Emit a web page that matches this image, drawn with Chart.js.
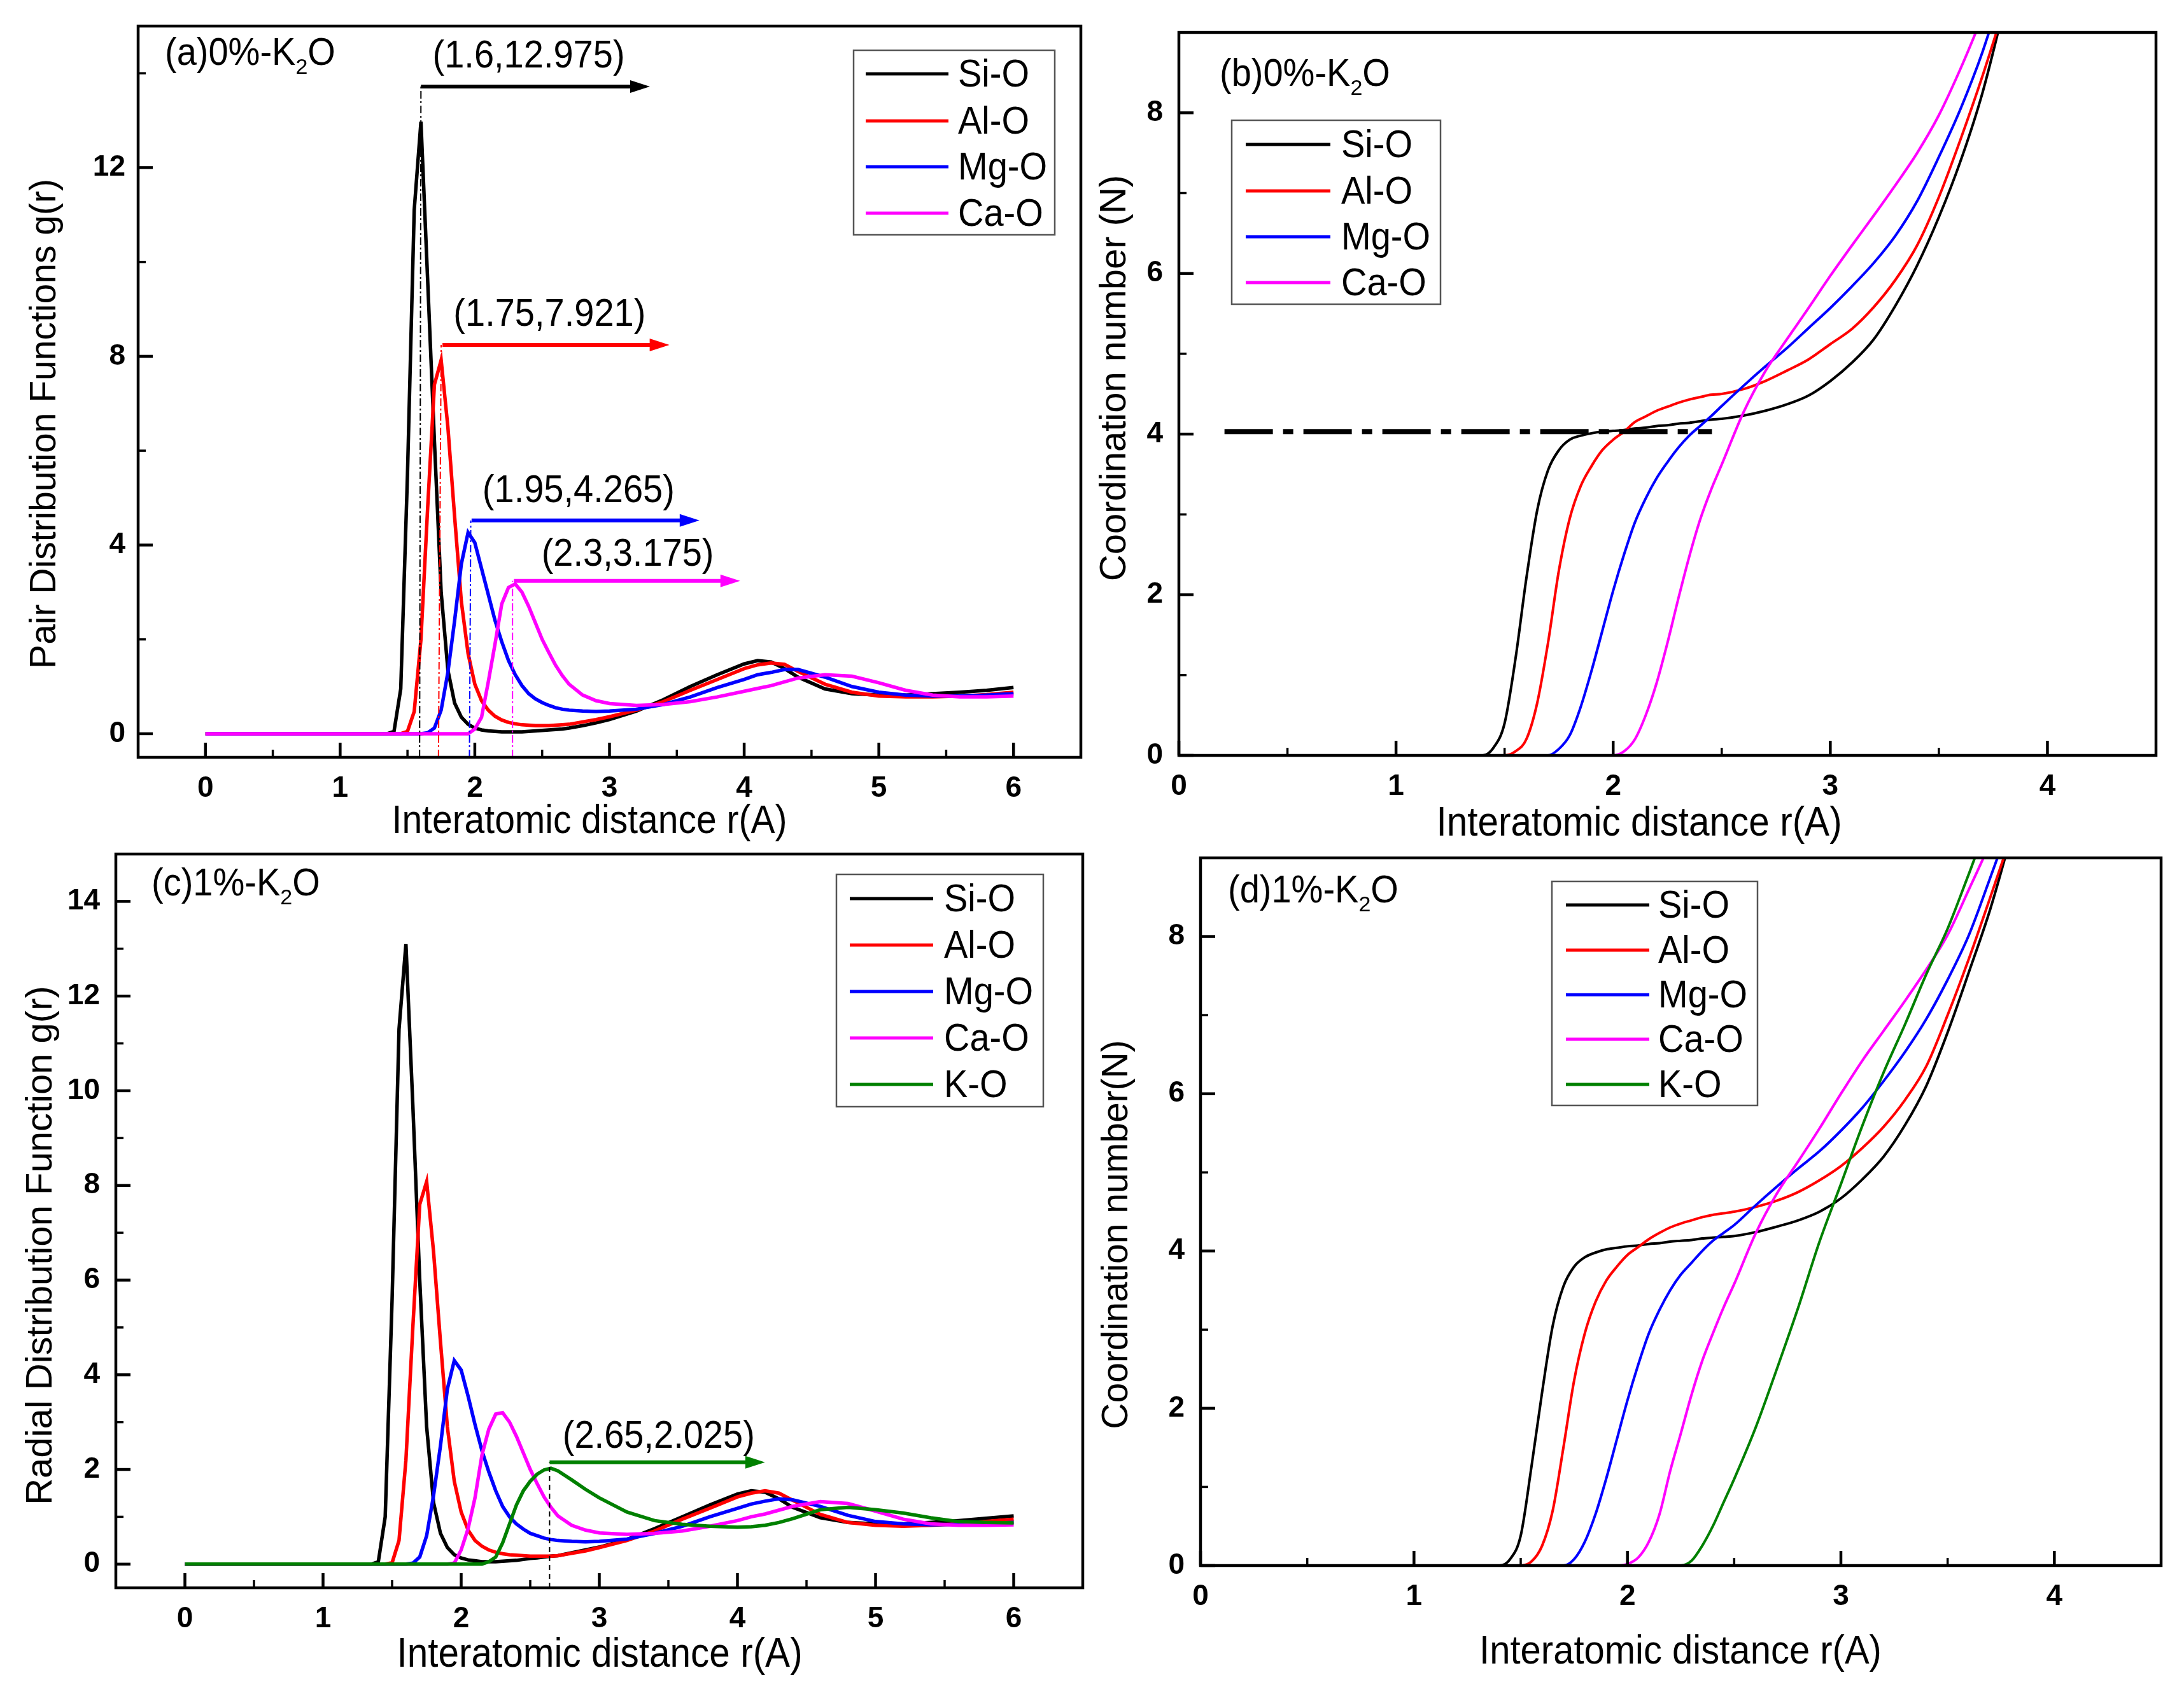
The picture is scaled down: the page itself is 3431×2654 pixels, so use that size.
<!DOCTYPE html>
<html>
  <head>
    <script src="https://cdn.jsdelivr.net/npm/chart.js@4/dist/chart.umd.min.js"></script>
    <style>
      body { margin: 0; background: #fff; }
      canvas { position: absolute; }
    </style>
  </head>
  <body>
    <canvas id="panelA" width="1716" height="1327" style="left:0;top:0"></canvas>
    <canvas id="panelB" width="1715" height="1327" style="left:1716px;top:0"></canvas>
    <canvas id="panelC" width="1716" height="1327" style="left:0;top:1327px"></canvas>
    <canvas id="panelD" width="1715" height="1327" style="left:1716px;top:1327px"></canvas>
    <script>
      // r grid shared by the pair distribution panels (a, c)
      var rPdf = [0,1.3,1.35,1.4,1.45,1.5,1.55,1.6,1.65,1.7,
        1.75,1.8,1.85,1.9,1.95,2,2.05,2.1,2.15,2.2,
        2.25,2.3,2.35,2.4,2.45,2.5,2.55,2.6,2.65,2.7,
        2.8,2.9,3,3.2,3.4,3.6,3.8,4,4.1,4.2,
        4.3,4.4,4.6,4.8,5,5.2,5.4,5.6,5.8,6];

      var siOA = [0,0,0,.05,.95,5.5,11.1,12.975,9.6,6.2,
        3,1.35,.65,.35,.2,.12,.08,.06,.05,.04,
        .04,.04,.04,.05,.06,.07,.08,.09,.1,.12,
        .17,.23,.3,.48,.72,1,1.25,1.48,1.55,1.52,
        1.38,1.2,.95,.85,.82,.82,.85,.88,.92,.98];
      var alOA = [0,0,0,0,0,.05,.47,2,4.8,7.4,
        7.921,6.5,4.6,2.8,1.7,1.05,.7,.5,.37,.29,
        .24,.21,.19,.18,.17,.17,.17,.18,.19,.2,
        .25,.3,.36,.5,.68,.92,1.15,1.38,1.46,1.5,
        1.47,1.32,1.05,.88,.8,.78,.78,.8,.83,.88];
      var mgOA = [0,0,0,0,0,0,0,0,.02,.12,
        .5,1.3,2.4,3.6,4.265,4.05,3.5,2.95,2.4,1.95,
        1.55,1.25,1.02,.85,.74,.66,.6,.55,.52,.5,
        .48,.47,.48,.52,.62,.78,.98,1.15,1.25,1.3,
        1.36,1.36,1.2,1,.88,.82,.8,.8,.82,.85];
      var caOA = [0,0,0,0,0,0,0,0,0,0,
        0,0,0,0,0,.1,.35,1.1,1.9,2.75,
        3.1,3.175,3,2.7,2.35,2,1.72,1.45,1.23,1.05,
        .82,.7,.64,.6,.62,.68,.78,.9,.96,1.02,
        1.1,1.18,1.25,1.22,1.08,.92,.82,.78,.78,.8];

      var siOC = [0,0,0,.05,1,5.6,11.3,13.1,9.7,6,
        2.9,1.3,.65,.35,.2,.13,.09,.07,.05,.05,
        .05,.06,.07,.08,.1,.12,.13,.15,.17,.18,
        .24,.3,.36,.52,.75,1,1.25,1.48,1.55,1.52,
        1.38,1.2,.98,.88,.85,.85,.88,.92,.97,1.02];
      var alOC = [0,0,0,0,0,.03,.5,2.2,5,7.6,
        8.08,6.6,4.7,2.9,1.75,1.1,.72,.5,.38,.3,
        .25,.22,.2,.19,.18,.17,.17,.17,.17,.18,
        .23,.28,.35,.5,.7,.95,1.18,1.42,1.5,1.55,
        1.5,1.35,1.05,.88,.82,.8,.82,.85,.9,.95];
      var mgOC = [0,0,0,0,0,0,0,0,.02,.15,
        .6,1.45,2.5,3.7,4.3,4.1,3.55,2.95,2.4,1.95,
        1.55,1.22,1,.85,.74,.65,.6,.55,.52,.5,
        .48,.47,.48,.53,.65,.8,1,1.18,1.27,1.33,
        1.38,1.36,1.22,1.03,.9,.85,.83,.84,.86,.88];
      var caOC = [0,0,0,0,0,0,0,0,0,0,
        0,0,0,0,.02,.3,.75,1.4,2.3,2.85,
        3.17,3.2,3,2.7,2.35,2,1.7,1.42,1.2,1.02,
        .82,.72,.66,.63,.65,.7,.8,.92,1,1.06,
        1.14,1.22,1.32,1.28,1.12,.95,.85,.82,.82,.83];
      var kOC = [0,0,0,0,0,0,0,0,0,0,
        0,0,0,0,0,0,0,0,0,.05,
        .15,.45,.85,1.25,1.55,1.75,1.9,1.99,2.025,1.97,
        1.78,1.58,1.4,1.1,.92,.84,.8,.78,.79,.82,
        .88,.96,1.15,1.2,1.15,1.08,.98,.9,.88,.87];

      // r grid shared by the coordination number panels (b, d)
      var rCn = [0,1.4,1.45,1.5,1.55,1.6,1.65,1.7,1.75,1.8,
        1.85,1.9,1.95,2,2.05,2.1,2.15,2.2,2.25,2.3,
        2.35,2.4,2.45,2.5,2.6,2.7,2.8,2.9,3,3.1,
        3.2,3.3,3.4,3.5,3.6,3.7,3.8];

      var siOB = [0,0,.1,.4,1.2,2.2,3.05,3.55,3.8,3.93,
        3.98,4.01,4.03,4.04,4.05,4.07,4.08,4.1,4.11,4.13,
        4.14,4.16,4.18,4.19,4.23,4.29,4.37,4.48,4.66,4.89,
        5.18,5.6,6.1,6.7,7.4,8.24,9.3];
      var alOB = [0,0,0,0,.05,.2,.65,1.4,2.3,2.95,
        3.35,3.6,3.8,3.93,4.03,4.15,4.22,4.29,4.34,4.39,
        4.43,4.46,4.49,4.5,4.56,4.66,4.79,4.93,5.12,5.31,
        5.58,5.92,6.35,6.95,7.67,8.45,9.3];
      var mgOB = [0,0,0,0,0,0,0,0,.08,.25,
        .6,1.05,1.55,2.05,2.5,2.9,3.2,3.45,3.65,3.83,
        3.98,4.1,4.22,4.35,4.6,4.84,5.07,5.32,5.57,5.84,
        6.13,6.47,6.9,7.45,8.05,8.75,9.6];
      var caOB = [0,0,0,0,0,0,0,0,0,0,
        0,0,0,0,.05,.2,.5,.9,1.4,1.95,
        2.47,2.93,3.3,3.62,4.27,4.78,5.18,5.57,5.97,6.35,
        6.72,7.1,7.5,7.97,8.55,9.2,9.9];

      var siOD = [0,0,.08,.38,1.25,2.2,3.05,3.55,3.8,3.92,
        3.98,4.02,4.04,4.06,4.07,4.09,4.1,4.12,4.13,4.14,
        4.16,4.17,4.18,4.19,4.24,4.31,4.39,4.5,4.67,4.91,
        5.2,5.6,6.1,6.78,7.55,8.35,9.3];
      var alOD = [0,0,0,0,.05,.25,.7,1.5,2.35,2.95,
        3.35,3.62,3.8,3.95,4.05,4.15,4.23,4.3,4.35,4.39,
        4.43,4.46,4.48,4.5,4.56,4.64,4.75,4.9,5.08,5.31,
        5.58,5.92,6.35,7,7.72,8.5,9.3];
      var mgOD = [0,0,0,0,0,0,0,0,.08,.3,
        .65,1.1,1.6,2.1,2.55,2.95,3.25,3.5,3.7,3.85,
        4,4.13,4.23,4.33,4.58,4.82,5.05,5.27,5.53,5.82,
        6.16,6.53,6.95,7.45,8.02,8.75,9.5];
      var caOD = [0,0,0,0,0,0,0,0,0,0,
        0,0,0,.02,.1,.3,.65,1.2,1.68,2.17,
        2.6,2.95,3.28,3.58,4.22,4.73,5.14,5.56,6,6.42,
        6.8,7.18,7.58,8.02,8.6,9.2,9.9];
      var kOD = [0,0,0,0,0,0,0,0,0,0,
        0,0,0,0,0,0,0,0,0,.06,
        .25,.5,.8,1.1,1.75,2.5,3.28,4.12,4.85,5.59,
        6.27,6.88,7.52,8.1,8.8,9.5,9.9];

      var seriesNames = ['Si-O', 'Al-O', 'Mg-O', 'Ca-O', 'K-O'];
      var seriesColors = ['#000000', '#ff0000', '#0000ff', '#ff00ff', '#008000'];

      var FONT = '"Liberation Sans", Arial, sans-serif';

      var panels = [
        { id: 'panelA', left: 217, top: 41, right: 1698, bottom: 1190, cw: 1716, lw: 5.5, tickPad: 20,
          xMin: -0.5, xMax: 6.5, yMin: -0.5, yMax: 15,
          xTicks: [0,1,2,3,4,5,6], xMinor: [.5,1.5,2.5,3.5,4.5,5.5],
          yTicks: [0,4,8,12], yMinor: [2,6,10,14],
          r: rPdf, series: [siOA, alOA, mgOA, caOA],
          yTitle: 'Pair Distribution Functions g(r)', yTitleSize: 57, yTitleX: 71, yTitleY: 666,
          xTitleSize: 57, xTitleX: 926, xTitleY: 1292,
          label: '(a)0%-K', labelX: 259, labelY: 85,
          legend: { x0: 1341, x1: 1657, y0: 79, y1: 369, lx0: 1360, lx1: 1490, tx: 1505, rows: [116,190,262,335] },
          notes: [
            { text: '(1.6,12.975)', tx: 2.4, ty: 14.35, vx0: 1.59, vx1: 1.6, ay: 13.72, ax0: 1.6, ax1: 3.3, c: 0 },
            { text: '(1.75,7.921)', tx: 2.555, ty: 8.87, vx0: 1.73, vx1: 1.75, ay: 8.24, ax0: 1.76, ax1: 3.445, c: 1 },
            { text: '(1.95,4.265)', tx: 2.77, ty: 5.14, vx0: 1.96, vx1: 1.97, ay: 4.52, ax0: 1.976, ax1: 3.668, c: 2 },
            { text: '(2.3,3.175)', tx: 3.135, ty: 3.79, vx0: 2.28, vx1: 2.28, ay: 3.24, ax0: 2.29, ax1: 3.97, c: 3 }
          ] },
        { id: 'panelB', left: 136, top: 51, right: 1671, bottom: 1187, cw: 1715, lw: 4, tickPad: 25,
          xMin: 0, xMax: 4.5, yMin: 0, yMax: 9,
          xTicks: [0,1,2,3,4], xMinor: [.5,1.5,2.5,3.5],
          yTicks: [0,2,4,6,8], yMinor: [1,3,5,7],
          r: rCn, series: [siOB, alOB, mgOB, caOB],
          yTitle: 'Coordination number (N)', yTitleSize: 58, yTitleX: 36, yTitleY: 594,
          xTitleSize: 58.5, xTitleX: 859, xTitleY: 1295,
          label: '(b)0%-K', labelX: 200, labelY: 118,
          legend: { x0: 219, x1: 547, y0: 189, y1: 478, lx0: 241, lx1: 374, tx: 391, rows: [227,300,372,444] },
          dashLine: { x0: .21, x1: 2.455, y: 4.03 } },
        { id: 'panelC', left: 182, top: 15, right: 1701, bottom: 1168, cw: 1716, lw: 5.5, tickPad: 25,
          xMin: -0.5, xMax: 6.5, yMin: -0.5, yMax: 15,
          xTicks: [0,1,2,3,4,5,6], xMinor: [.5,1.5,2.5,3.5,4.5,5.5],
          yTicks: [0,2,4,6,8,10,12,14], yMinor: [1,3,5,7,9,11,13],
          r: rPdf, series: [siOC, alOC, mgOC, caOC, kOC],
          yTitle: 'Radial Distribution Function g(r)', yTitleSize: 58, yTitleX: 65, yTitleY: 630,
          xTitleSize: 58.5, xTitleX: 942, xTitleY: 1274,
          label: '(c)1%-K', labelX: 238, labelY: 63,
          legend: { x0: 1314, x1: 1639, y0: 47, y1: 412, lx0: 1335, lx1: 1466, tx: 1483, rows: [85,158,231,304,377] },
          notes: [
            { text: '(2.65,2.025)', tx: 3.43, ty: 2.69, vx0: 2.64, vx1: 2.64, ay: 2.15, ax0: 2.64, ax1: 4.2, c: 4, vc: 0, dash: [8, 6] }
          ] },
        { id: 'panelD', left: 170, top: 21, right: 1679, bottom: 1133, cw: 1715, lw: 4, tickPad: 25,
          xMin: 0, xMax: 4.5, yMin: 0, yMax: 9,
          xTicks: [0,1,2,3,4], xMinor: [.5,1.5,2.5,3.5],
          yTicks: [0,2,4,6,8], yMinor: [1,3,5,7],
          r: rCn, series: [siOD, alOD, mgOD, caOD, kOD],
          yTitle: 'Coordination number(N)', yTitleSize: 57, yTitleX: 39, yTitleY: 613,
          xTitleSize: 58, xTitleX: 924, xTitleY: 1269,
          label: '(d)1%-K', labelX: 213, labelY: 74,
          legend: { x0: 722, x1: 1045, y0: 58, y1: 410, lx0: 744, lx1: 875, tx: 889, rows: [95,166,236,306,377] } }
      ];

      // box, inward ticks, texts, legend and arrows on top of the curves
      var decorPlugin = {
        id: 'decor',
        afterDatasetsDraw: function(chart) {
          var p = chart.options.plugins.decor.panel;
          var ctx = chart.ctx, a = chart.chartArea;
          var sx = chart.scales.x, sy = chart.scales.y;
          ctx.save();

          ctx.strokeStyle = '#000';
          ctx.fillStyle = '#000';
          ctx.lineWidth = 4.5;
          p.xTicks.forEach(function(v) { var x = sx.getPixelForValue(v); line(ctx, x, a.bottom, x, a.bottom - 23); });
          p.yTicks.forEach(function(v) { var y = sy.getPixelForValue(v); line(ctx, a.left, y, a.left + 23, y); });
          ctx.lineWidth = 3.5;
          p.xMinor.forEach(function(v) { var x = sx.getPixelForValue(v); line(ctx, x, a.bottom, x, a.bottom - 12); });
          p.yMinor.forEach(function(v) { var y = sy.getPixelForValue(v); line(ctx, a.left, y, a.left + 12, y); });

          (p.notes || []).forEach(function(n) {
            var c = seriesColors[n.c];
            ctx.strokeStyle = seriesColors[n.vc === undefined ? n.c : n.vc];
            ctx.lineWidth = 2;
            ctx.setLineDash(n.dash || [12, 4, 3, 4]);
            line(ctx, sx.getPixelForValue(n.vx0), a.bottom, sx.getPixelForValue(n.vx1), sy.getPixelForValue(n.ay));
            ctx.setLineDash([]);
            var ay = sy.getPixelForValue(n.ay), x0 = sx.getPixelForValue(n.ax0), x1 = sx.getPixelForValue(n.ax1);
            ctx.strokeStyle = c;
            ctx.fillStyle = c;
            ctx.lineWidth = 6;
            line(ctx, x0, ay, x1 - 20, ay);
            ctx.beginPath();
            ctx.moveTo(x1, ay);
            ctx.lineTo(x1 - 31, ay - 10);
            ctx.lineTo(x1 - 31, ay + 10);
            ctx.closePath();
            ctx.fill();
            ctx.fillStyle = '#000';
            ctx.font = '56px ' + FONT;
            ctx.textAlign = 'center';
            ctx.textBaseline = 'middle';
            tallText(ctx, n.text, sx.getPixelForValue(n.tx), sy.getPixelForValue(n.ty));
          });

          if (p.dashLine) {
            ctx.strokeStyle = '#000';
            ctx.lineWidth = 8;
            ctx.setLineDash([76, 16, 16, 16]);
            var dy = sy.getPixelForValue(p.dashLine.y);
            line(ctx, sx.getPixelForValue(p.dashLine.x0), dy, sx.getPixelForValue(p.dashLine.x1), dy);
            ctx.setLineDash([]);
          }

          ctx.strokeStyle = '#000';
          ctx.lineWidth = 4.5;
          ctx.strokeRect(a.left, a.top, a.right - a.left, a.bottom - a.top);

          // panel label with the subscript in K2O
          ctx.fillStyle = '#000';
          ctx.textAlign = 'left';
          ctx.textBaseline = 'middle';
          ctx.font = '56px ' + FONT;
          var lx = p.labelX;
          tallText(ctx, p.label, lx, p.labelY);
          lx += ctx.measureText(p.label).width;
          ctx.font = '34px ' + FONT;
          ctx.fillText('2', lx, p.labelY + 22);
          lx += ctx.measureText('2').width;
          ctx.font = '56px ' + FONT;
          tallText(ctx, 'O', lx, p.labelY);

          // legend
          var lg = p.legend;
          ctx.fillStyle = '#fff';
          ctx.fillRect(lg.x0, lg.y0, lg.x1 - lg.x0, lg.y1 - lg.y0);
          ctx.strokeStyle = '#555';
          ctx.lineWidth = 2.5;
          ctx.strokeRect(lg.x0, lg.y0, lg.x1 - lg.x0, lg.y1 - lg.y0);
          lg.rows.forEach(function(y, i) {
            ctx.strokeStyle = seriesColors[i];
            ctx.lineWidth = 5;
            line(ctx, lg.lx0, y, lg.lx1, y);
            ctx.fillStyle = '#000';
            tallText(ctx, seriesNames[i], lg.tx, y + 3);
          });

          // axis titles sit off-centre in the original, so they are placed by hand
          ctx.textAlign = 'center';
          ctx.font = p.xTitleSize + 'px ' + FONT;
          tallText(ctx, 'Interatomic distance r(A)', p.xTitleX, p.xTitleY);
          ctx.font = p.yTitleSize + 'px ' + FONT;
          ctx.translate(p.yTitleX, p.yTitleY);
          ctx.rotate(-Math.PI / 2);
          ctx.fillText(p.yTitle, 0, 0);
          ctx.restore();
        }
      };

      function line(ctx, x0, y0, x1, y1) {
        ctx.beginPath();
        ctx.moveTo(x0, y0);
        ctx.lineTo(x1, y1);
        ctx.stroke();
      }

      // the reference's lettering is a little taller than it is wide
      function tallText(ctx, str, x, y) {
        ctx.save();
        ctx.translate(x, y);
        ctx.scale(1, 1.1);
        ctx.fillText(str, 0, 0);
        ctx.restore();
      }

      function fixedTicks(list) {
        return function(scale) {
          scale.ticks = list.map(function(v) { return { value: v }; });
        };
      }

      panels.forEach(function(p) {
        var n = p.series.length;
        new Chart(document.getElementById(p.id), {
          type: 'line',
          data: {
            datasets: p.series.map(function(vals, i) {
              return {
                label: seriesNames[i],
                data: p.r.map(function(x, k) { return { x: x, y: vals[k] }; }),
                borderColor: seriesColors[i],
                borderWidth: p.lw,
                pointRadius: 0,
                tension: 0,
                cubicInterpolationMode: p.yMin === 0 ? 'monotone' : 'default',
                order: n - i
              };
            })
          },
          options: {
            responsive: false,
            animation: false,
            devicePixelRatio: 1,
            layout: { autoPadding: false, padding: { left: 0, top: p.top, right: p.cw - p.right, bottom: 0 } },
            plugins: { legend: { display: false }, tooltip: { enabled: false }, decor: { panel: p } },
            scales: {
              x: {
                type: 'linear', min: p.xMin, max: p.xMax,
                grid: { display: false, drawTicks: false }, border: { display: false },
                afterBuildTicks: fixedTicks(p.xTicks),
                // fixed sizes, and no room kept for tick labels at the ends
                afterFit: function(s) { s.height = 1327 - p.bottom; s.paddingLeft = 0; s.paddingRight = 0; },
                ticks: { color: '#000', padding: 22, maxRotation: 0, autoSkip: false,
                  font: { family: FONT, size: 46, weight: 'bold' } }
              },
              y: {
                type: 'linear', min: p.yMin, max: p.yMax,
                grid: { display: false, drawTicks: false }, border: { display: false },
                afterBuildTicks: fixedTicks(p.yTicks),
                afterFit: function(s) { s.width = p.left; s.paddingTop = 0; s.paddingBottom = 0; },
                ticks: { color: '#000', padding: p.tickPad, autoSkip: false,
                  font: { family: FONT, size: 46, weight: 'bold' } }
              }
            }
          },
          plugins: [decorPlugin]
        });
      });
    </script>
  </body>
</html>
